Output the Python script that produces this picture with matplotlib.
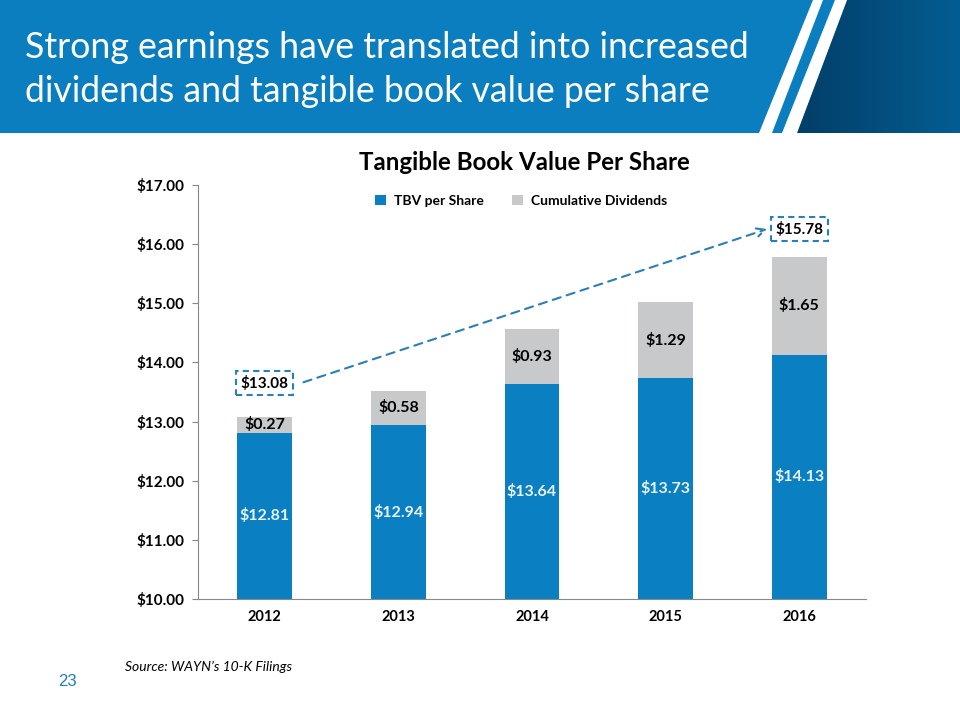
import numpy as np
import matplotlib
matplotlib.use("Agg")
import matplotlib.pyplot as plt
from matplotlib.patches import Rectangle, Polygon

years = ["2012", "2013", "2014", "2015", "2016"]
tbv = [12.81, 12.94, 13.64, 13.73, 14.13]
dividends = [0.27, 0.58, 0.93, 1.29, 1.65]
ytick_vals = [10, 11, 12, 13, 14, 15, 16, 17]

blue = "#0a80c2"
gray = "#c8c9cb"
font = "Lato"

plt.rcParams["font.family"] = [font, "DejaVu Sans"]

fig = plt.figure(figsize=(9.6, 7.2), dpi=100)

# header band
hdr = fig.add_axes([0, 1 - 133 / 720, 1, 133 / 720])
hdr.add_patch(Rectangle((0, 0), 960, 133, color="#0b7ec0", lw=0, zorder=0))
dark = Polygon([(847, 0), (960, 0), (960, 133), (797, 133)], closed=True,
               fc="none", ec="none", lw=0)
hdr.add_patch(dark)
grad = np.linspace(0, 1, 200).reshape(1, -1)
im = hdr.imshow(grad, extent=[797, 960, 133, 0], aspect="auto", zorder=1,
                cmap=matplotlib.colors.LinearSegmentedColormap.from_list("g", ["#023e68", "#045d92"]))
im.set_clip_path(dark)
for x0, x1, x2, x3 in [(813, 823, 772, 759), (835, 847, 797, 782)]:
    hdr.add_patch(Polygon([(x0, 0), (x1, 0), (x2, 133), (x3, 133)], closed=True,
                          color="white", lw=0, zorder=2))
hdr.set_xlim(0, 960)
hdr.set_ylim(133, 0)
hdr.axis("off")
hdr.text(25, 47, "Strong earnings have translated into increased", color="white",
         fontsize=25.7, va="center", ha="left")
hdr.text(25, 92, "dividends and tangible book value per share", color="white",
         fontsize=25.7, va="center", ha="left")

# chart
ax = fig.add_axes([198 / 960, 121 / 720, 668 / 960, 414 / 720])
x = np.arange(len(years))
totals = [a + b for a, b in zip(tbv, dividends)]
ax.bar(x, [t - 10 for t in tbv], bottom=10, width=0.41, color=blue, label="TBV per Share")
ax.bar(x, dividends, bottom=tbv, width=0.41, color=gray, label="Cumulative Dividends")

for i in range(len(years)):
    ax.text(x[i], (10 + tbv[i]) / 2, f"${tbv[i]:.2f}", ha="center", va="center",
            color="#eaf2fa", fontsize=11.5, fontweight="bold")
    ax.text(x[i], tbv[i] + dividends[i] / 2, f"${dividends[i]:.2f}", ha="center", va="center",
            color="black", fontsize=11.5, fontweight="bold")

ax.set_xlim(-0.5, 4.5)
ax.set_ylim(10, 17)
ax.set_yticks(ytick_vals)
ax.set_yticklabels([f"${v:.2f}" for v in ytick_vals], fontsize=11, fontweight="bold")
ax.set_xticks(x)
ax.set_xticklabels(years, fontsize=10.5, fontweight="bold")
ax.tick_params(axis="x", length=0, pad=8)
ax.tick_params(axis="y", length=4, color="#888888", pad=6)
for s in ["top", "right"]:
    ax.spines[s].set_visible(False)
for s in ["left", "bottom"]:
    ax.spines[s].set_color("#888888")

# callouts for first and last totals
box = dict(boxstyle="square,pad=0.3", fc="white", ec="#2a7fb8", ls=(0, (3, 2)), lw=1.5)
ax.text(x[0], 13.65, f"${totals[0]:.2f}", ha="center", va="center", fontsize=11,
        fontweight="bold", bbox=box)
ax.text(x[-1], 16.25, f"${totals[-1]:.2f}", ha="center", va="center", fontsize=11,
        fontweight="bold", bbox=box)
ax.annotate("", xy=(x[-1] - 0.22, 16.27), xytext=(x[0] + 0.27, 13.65),
            arrowprops=dict(arrowstyle="->", color="#2a7fb8", lw=1.5, ls=(0, (4, 3)),
                            mutation_scale=15))

ax.set_title("Tangible Book Value Per Share", fontsize=17.4, fontweight="bold", pad=11, x=0.488)
ax.legend(loc="center", bbox_to_anchor=(0.484, 0.962), ncol=2, frameon=False,
          handlelength=0.8, handleheight=0.8, columnspacing=2.0, handletextpad=0.6,
          prop={"weight": "bold", "size": 10, "family": font})

fig.text(125 / 960, 1 - 667 / 720, "Source: WAYN\u2019s 10-K Filings", fontsize=10,
         style="italic", va="center")
fig.text(58 / 960, 1 - 681 / 720, "23", fontsize=12, color="#1a7fc1", va="center",
         family="Liberation Sans")

fig.savefig("out.png", dpi=100)
